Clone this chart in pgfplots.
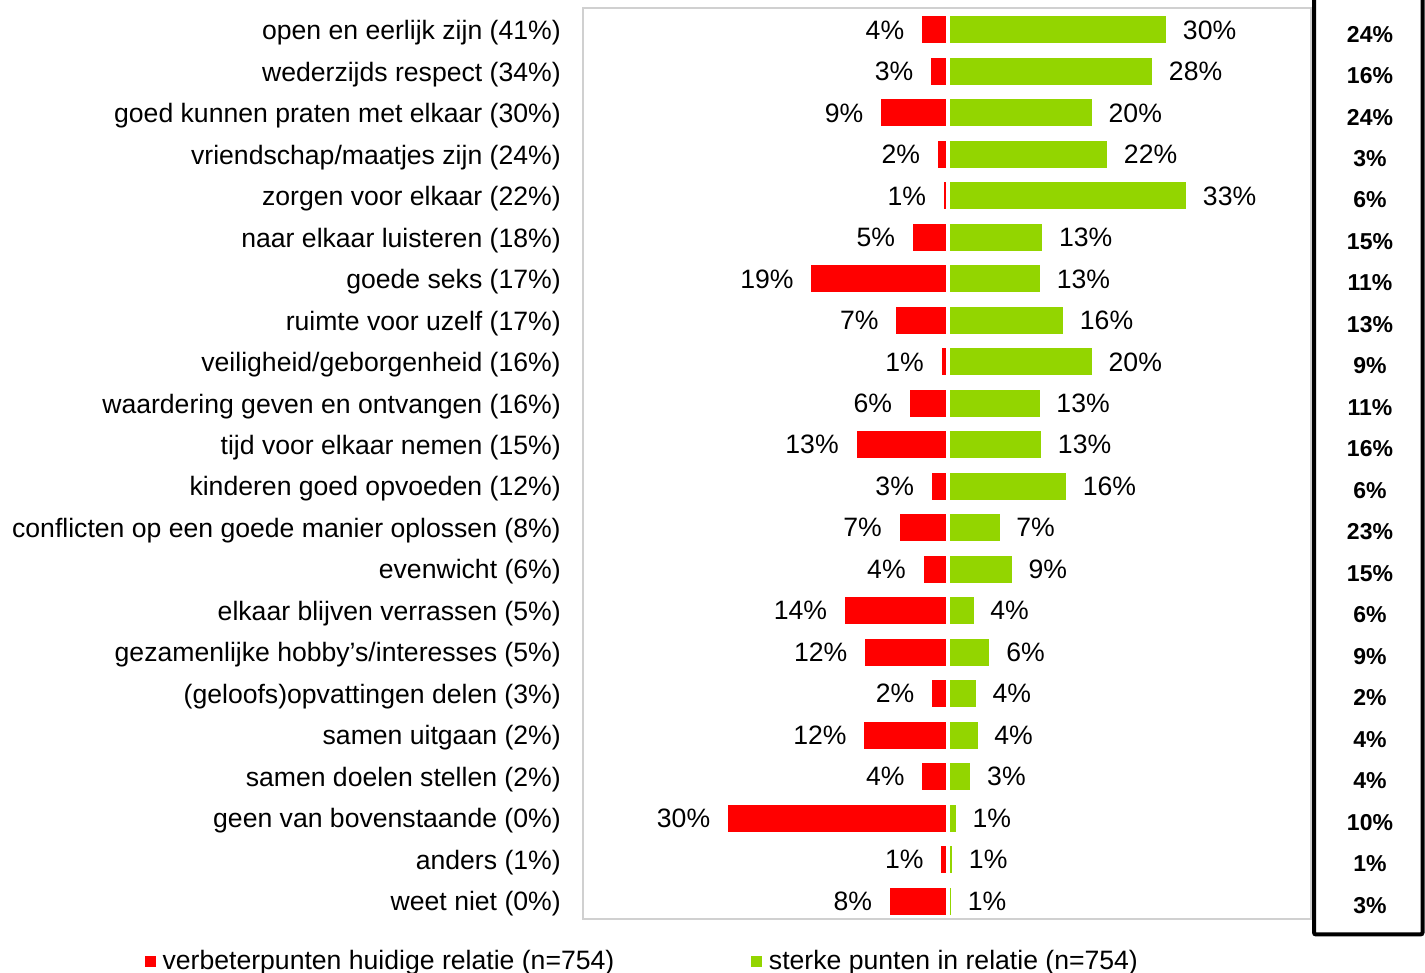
\documentclass[border=0pt]{standalone}
\usepackage{fontspec}
\setmainfont{Liberation Sans}
\usepackage{pgfplots}
\usepackage{pgfplotstable}
\pgfplotsset{compat=1.18}
\definecolor{barred}{HTML}{FF0000}
\definecolor{bargreen}{HTML}{93D500}
\definecolor{frame}{HTML}{D0D0D0}

% i: row, r/rl: verbeterpunten (bar / label), g/gl: sterke punten, p: right column
\pgfplotstableread{
i r     rl g     gl p
0 3.73  4  30.35 30 24
1 2.48  3  28.41 28 16
2 9.40  9  20.06 20 24
3 1.54  2  22.18 22 3
4 0.71  1  33.12 33 6
5 5.00  5  13.18 13 15
6 19.06 19 12.88 13 11
7 7.29  7  16.08 16 13
8 1.00  1  20.06 20 9
9 5.40  6  12.83 13 11
10 12.80 13 13.04 13 16
11 2.38  3  16.48 16 6
12 6.84  7  7.28  7  23
13 3.52  4  8.98  9  15
14 14.40 14 3.68  4  6
15 11.60 12 5.88  6  9
16 2.34  2  3.98  4  2
17 11.70 12 4.23  4  4
18 3.67  4  3.24  3  4
19 30.60 30 1.21  1  10
20 1.05  1  0.71  1  1
21 8.17  8  0.56  1  3
}\datatable

\begin{document}
\begin{tikzpicture}[font=\fontsize{13.3}{16}\selectfont]
\begin{axis}[
    at={(0pt,0pt)}, anchor=south west,
    scale only axis,
    width=364pt, height=455.5pt,
    xmin=-50.55, xmax=50.28,
    ymin=-0.53, ymax=21.43,
    y dir=reverse,
    clip=false,
    axis line style={frame, line width=0.8pt},
    xtick=\empty,
    ytick={0,...,21},
    major tick length=0pt,
    yticklabel style={xshift=-7.6pt, yshift=-1.4pt},
    yticklabels={
        open en eerlijk zijn (41\%),
        wederzijds respect (34\%),
        goed kunnen praten met elkaar (30\%),
        vriendschap/maatjes zijn (24\%),
        zorgen voor elkaar (22\%),
        naar elkaar luisteren (18\%),
        goede seks (17\%),
        ruimte voor uzelf (17\%),
        veiligheid/geborgenheid (16\%),
        waardering geven en ontvangen (16\%),
        tijd voor elkaar nemen (15\%),
        kinderen goed opvoeden (12\%),
        conflicten op een goede manier oplossen (8\%),
        evenwicht (6\%),
        elkaar blijven verrassen (5\%),
        gezamenlijke hobby’s/interesses (5\%),
        (geloofs)opvattingen delen (3\%),
        samen uitgaan (2\%),
        samen doelen stellen (2\%),
        geen van bovenstaande (0\%),
        anders (1\%),
        weet niet (0\%)
    },
    bar width=14.5pt,
    legend columns=2,
    legend style={
        at={(axis description cs:-0.6016,-0.047)}, anchor=west,
        draw=none, fill=none, inner sep=0pt, outer sep=0pt,
        /tikz/every odd column/.append style={column sep=1.3pt},
        /tikz/every even column/.append style={column sep=66.5pt},
    },
    legend cell align=left,
]
\addplot[xbar, fill=barred, draw=white, line width=1pt,
    point meta=explicit,
    nodes near coords={\pgfmathprintnumber[assume math mode=true]{\pgfplotspointmeta}\%},
    every node near coord/.append style={anchor=east, xshift=-4.6pt, text=black},
    legend image code/.code={\fill[barred] (0pt,-2.3pt) rectangle (4.5pt,2.3pt);}]
    table[x expr=-\thisrow{r}, y=i, meta=rl] {\datatable};
\addlegendentry{verbeterpunten huidige relatie (n=754)}

\addplot[xbar, fill=bargreen, draw=white, line width=1pt,
    point meta=explicit,
    nodes near coords={\pgfmathprintnumber[assume math mode=true]{\pgfplotspointmeta}\%},
    every node near coord/.append style={anchor=west, xshift=4.1pt, text=black},
    legend image code/.code={\fill[bargreen] (0pt,-2.3pt) rectangle (4.5pt,2.3pt);}]
    table[x=g, y=i, meta=gl] {\datatable};
\addlegendentry{sterke punten in relatie (n=754)}

% white gap between the two series
\draw[white, line width=2pt] (axis cs:0,-0.4) -- (axis cs:0,21.4);

% right-hand column
\addplot[draw=none, mark=none, forget plot,
    point meta=explicit,
    nodes near coords={\pgfmathprintnumber[assume math mode=true]{\pgfplotspointmeta}\%},
    every node near coord/.append style={anchor=center,
        font=\bfseries\fontsize{11.5}{14}\selectfont}]
    table[x expr=58.45, y expr=\thisrow{i}+0.1, meta=p] {\datatable};
\end{axis}

\draw[black, line width=2pt, rounded corners=1pt]
    (365.5pt,462pt) -- (365.5pt,-7.75pt) -- (419.75pt,-7.75pt) -- (419.75pt,462pt);

\pgfresetboundingbox
\useasboundingbox (-291.5pt,-27pt) rectangle (421pt,459.5pt);
\end{tikzpicture}
\end{document}
